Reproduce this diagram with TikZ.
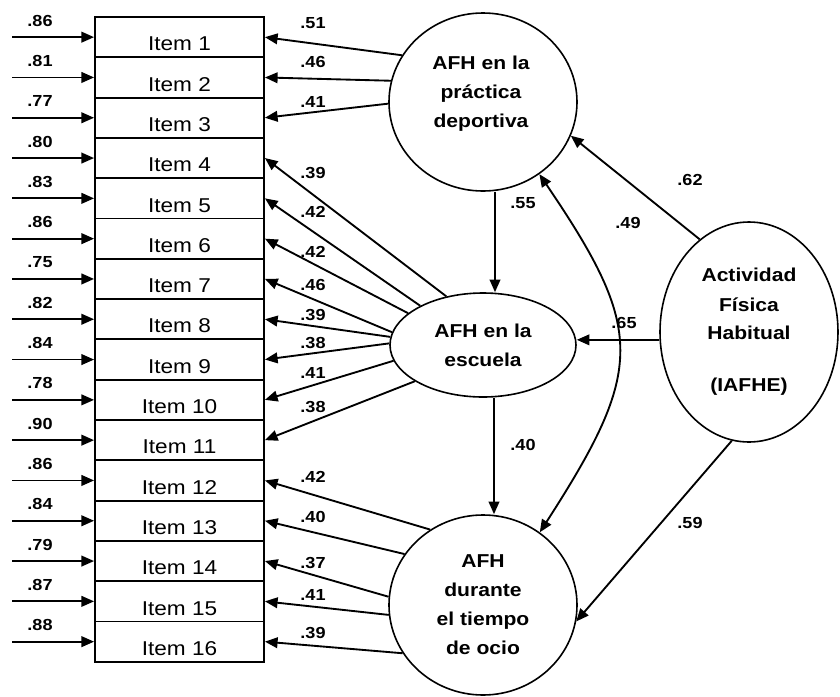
\documentclass[tikz,border=0pt]{standalone}
\usepackage{fontspec}
\setmainfont{Liberation Sans}[FakeStretch=1.13]
\usetikzlibrary{arrows.meta,calc,shapes.geometric}
\begin{document}
\begin{tikzpicture}[x=0.75pt,y=-0.75pt,
  itembox/.style={draw,line width=1.4pt,minimum width=126.75pt,minimum height=30.225pt,
    inner sep=0pt,font=\fontsize{15}{18}\selectfont,text height=20.6pt,text depth=0pt},
  latent/.style={ellipse,draw,line width=1.2pt,inner sep=0pt,align=center,
    font=\bfseries\fontsize{14}{21.75}\selectfont},
  ltext/.style={align=center,inner sep=0pt,font=\bfseries\fontsize{14}{21.75}\selectfont},
  lbl/.style={inner sep=0pt,font=\bfseries\fontsize{12}{14}\selectfont},
  arr/.style={line width=1.4pt,-{Triangle[length=9.5pt,width=8pt]}},
  darr/.style={line width=1.4pt,{Triangle[length=9.5pt,width=8pt]}-{Triangle[length=9.5pt,width=8pt]}}
]
\fill[white] (0,0) rectangle (840,697);
\useasboundingbox (0,0) rectangle (840,697);

% item boxes, errors
\foreach \k/\v in {1/.86,2/.81,3/.77,4/.80,5/.83,6/.86,7/.75,8/.82,9/.84,10/.78,11/.90,12/.86,13/.84,14/.79,15/.87,16/.88}{
  \node[itembox] (item\k) at (179.5,{17+40.3*(\k-0.5)}) {Item \k};
  \coordinate (e\k) at (12,{17+40.3*(\k-0.5)});
  \draw[arr] (e\k) -- (item\k.west);
  \node[lbl] (el\k) at (40,{17+40.3*(\k-0.5)-16.5}) {\v};
}

% latent variables
\node[latent,minimum width=141pt,minimum height=133.5pt] (afh1) at (483,102) {};
\node[ltext] (afh1t) at (481,94) {AFH en la\\práctica\\deportiva};
\node[latent,minimum width=139.5pt,minimum height=78pt] (esc) at (483,345) {AFH en la\\escuela};
\node[latent,minimum width=141pt,minimum height=135pt] (ocio) at (483,605) {AFH\\durante\\el tiempo\\de ocio};
\node[latent,minimum width=133.5pt,minimum height=165pt] (iafhe) at (749,332) {Actividad\\Física\\Habitual\\[17pt](IAFHE)};

% loadings
\foreach \a/\k in {150/1,167/2,181/3}{\draw[arr] (afh1.\a) -- (item\k.east);}
\foreach \a/\k in {127/4,148/5,157/6,172/7,175/8,179/9,190/10,208/11}{\draw[arr] (esc.\a) -- (item\k.east);}
\foreach \a/\k in {125/12,147/13,175/14,186/15,211/16}{\draw[arr] (ocio.\a) -- (item\k.east);}

\foreach \k/\v/\y in {1/.51/23,2/.46/62,3/.41/102,4/.39/173,5/.42/212,6/.42/252,7/.46/285,8/.39/315,9/.38/343,10/.41/373,11/.38/407,12/.42/477,13/.40/517,14/.37/563,15/.41/595,16/.39/633}{
  \node[lbl] (ll\k) at (313,\y) {\v};
}

% structural paths
\draw[arr] ($(afh1.south)+(12,0)$) -- ($(esc.north)+(12,0)$);
\draw[arr] ($(esc.south)+(11,0)$) -- ($(ocio.north)+(11,0)$);
\draw[arr] (iafhe.118) -- (afh1.339);
\draw[arr] (iafhe.185) -- (iafhe.185 -| esc.east);
\draw[arr] (iafhe.261) -- (ocio.350);
\draw[darr] (afh1.308) .. controls (645,330) and (645,369) .. (ocio.52);

\node[lbl] (l55) at (523,203) {.55};
\node[lbl] (l40) at (523,445) {.40};
\node[lbl] (l62) at (690,180) {.62};
\node[lbl] (l49) at (628,223) {.49};
\node[lbl] (l65) at (624,323) {.65};
\node[lbl] (l59) at (690,523) {.59};
\end{tikzpicture}
\end{document}
